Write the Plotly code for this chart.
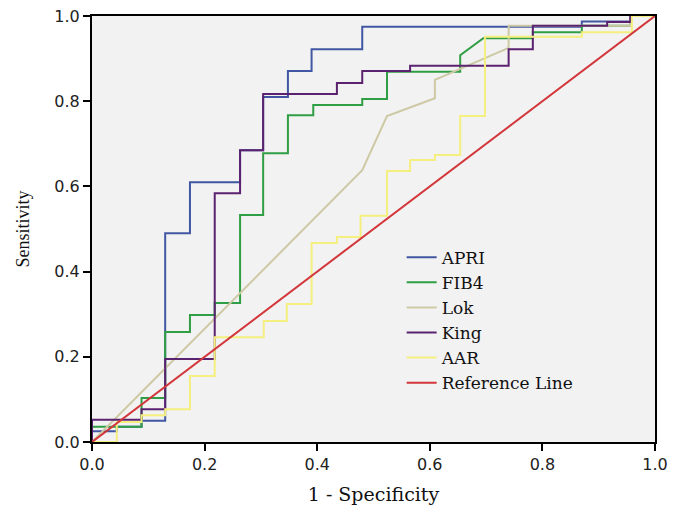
import plotly.graph_objects as go

# ---- data (1 - specificity, sensitivity) ----
apri_x = [0, 0, 0.044, 0.044, 0.088, 0.088, 0.13, 0.13, 0.174, 0.174, 0.263, 0.263,
          0.304, 0.304, 0.348, 0.348, 0.39, 0.39, 0.48, 0.48, 0.87, 0.87, 0.956, 0.956, 1]
apri_y = [0, 0.025, 0.025, 0.036, 0.036, 0.05, 0.05, 0.49, 0.49, 0.61, 0.61, 0.685,
          0.685, 0.81, 0.81, 0.871, 0.871, 0.922, 0.922, 0.975, 0.975, 0.987, 0.987, 1, 1]

fib4_x = [0, 0, 0.088, 0.088, 0.13, 0.13, 0.174, 0.174, 0.218, 0.218, 0.263, 0.263,
          0.304, 0.304, 0.348, 0.348, 0.393, 0.393, 0.48, 0.48, 0.524, 0.524, 0.654,
          0.654, 0.695, 0.783, 0.783, 0.87, 0.87, 0.956, 0.956, 1]
fib4_y = [0, 0.036, 0.036, 0.103, 0.103, 0.258, 0.258, 0.298, 0.298, 0.326, 0.326, 0.533,
          0.533, 0.678, 0.678, 0.767, 0.767, 0.791, 0.791, 0.805, 0.805, 0.869, 0.869,
          0.908, 0.948, 0.948, 0.962, 0.962, 0.977, 0.977, 1, 1]

lok_x = [0, 0.48, 0.524, 0.609, 0.609, 0.69, 0.74, 0.74, 0.956, 0.956, 1]
lok_y = [0, 0.638, 0.765, 0.807, 0.85, 0.897, 0.925, 0.977, 0.977, 1, 1]

king_x = [0, 0, 0.088, 0.088, 0.13, 0.13, 0.218, 0.218, 0.263, 0.263, 0.304, 0.304,
          0.435, 0.435, 0.48, 0.48, 0.565, 0.565, 0.74, 0.74, 0.783, 0.783, 0.915,
          0.915, 0.956, 0.956, 1]
king_y = [0, 0.052, 0.052, 0.077, 0.077, 0.195, 0.195, 0.584, 0.584, 0.685, 0.685, 0.817,
          0.817, 0.843, 0.843, 0.871, 0.871, 0.883, 0.883, 0.922, 0.922, 0.977, 0.977,
          0.986, 0.986, 1, 1]

aar_x = [0, 0.044, 0.044, 0.088, 0.088, 0.13, 0.13, 0.174, 0.174, 0.218, 0.218, 0.305,
         0.305, 0.346, 0.346, 0.39, 0.39, 0.435, 0.435, 0.477, 0.477, 0.524, 0.524,
         0.565, 0.565, 0.609, 0.609, 0.654, 0.654, 0.698, 0.698, 0.87, 0.87, 0.959,
         0.959, 1]
aar_y = [0, 0, 0.047, 0.047, 0.063, 0.063, 0.077, 0.077, 0.155, 0.155, 0.246, 0.246,
         0.284, 0.284, 0.324, 0.324, 0.467, 0.467, 0.481, 0.481, 0.531, 0.531, 0.636,
         0.636, 0.662, 0.662, 0.674, 0.674, 0.765, 0.765, 0.951, 0.951, 0.962, 0.962,
         1, 1]

ref_x = [0, 1]
ref_y = [0, 1]

tick_vals = [0.0, 0.2, 0.4, 0.6, 0.8, 1.0]
tick_text = ["0.0", "0.2", "0.4", "0.6", "0.8", "1.0"]

series = [
    ("APRI", apri_x, apri_y, "#4257a3"),
    ("FIB4", fib4_x, fib4_y, "#2f9e44"),
    ("Lok", lok_x, lok_y, "#cdc9a5"),
    ("King", king_x, king_y, "#5b2270"),
    ("AAR", aar_x, aar_y, "#f4ef7e"),
    ("Reference Line", ref_x, ref_y, "#d2363a"),
]

fig = go.Figure()
for name, xs, ys, col in series:
    fig.add_trace(go.Scatter(x=xs, y=ys, mode="lines", name=name,
                             line=dict(color=col, width=2)))

axis_common = dict(
    range=[0, 1], tickvals=tick_vals, ticktext=tick_text,
    ticks="outside", ticklen=7, tickwidth=2, tickcolor="black",
    showline=True, linewidth=2, linecolor="black", mirror=True,
    showgrid=False, zeroline=False, automargin=False,
    ticklabeloverflow="allow",
    tickfont=dict(family="DejaVu Sans", size=16, color="#222"),
)

fig.update_layout(
    width=684, height=507,
    margin=dict(l=84, r=37, t=8, b=73),
    paper_bgcolor="white", plot_bgcolor="#f2f2f2",
    xaxis=dict(**axis_common,
               title=dict(text="1 - Specificity",
                          font=dict(family="DejaVu Serif", size=19, color="#111"),
                          standoff=14)),
    yaxis=dict(**axis_common,
               title=dict(text="Sensitivity",
                          font=dict(family="Liberation Serif", size=18, color="#111"),
                          standoff=20)),
    legend=dict(x=0.55, y=0.475, xanchor="left", yanchor="top",
                bgcolor="rgba(0,0,0,0)",
                font=dict(family="DejaVu Serif", size=17, color="#111")),
    showlegend=True,
)

fig.write_html("out.html")
